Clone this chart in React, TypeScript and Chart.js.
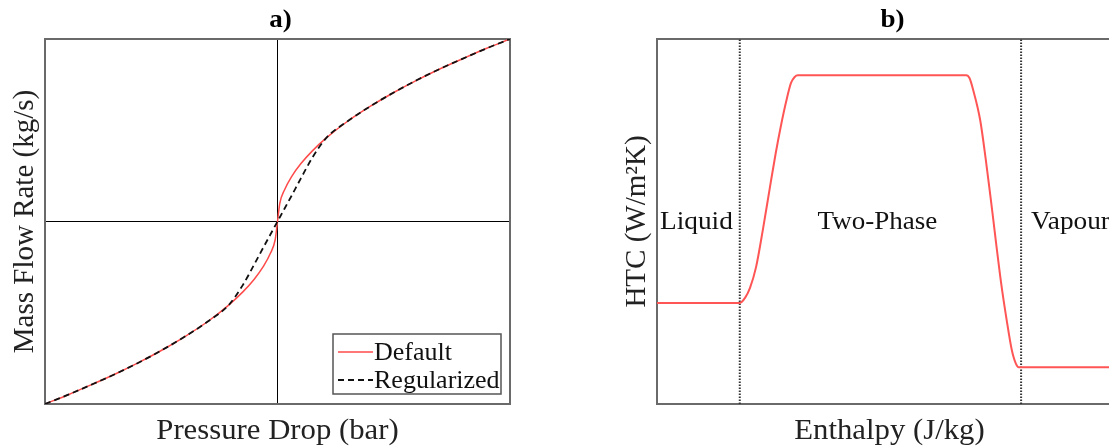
import React, { useEffect, useRef } from "react";
import { Chart, registerables } from "chart.js";
Chart.register(...registerables);

// ---------- Panel a) data ----------
const pressureDrop = [-1, -0.9, -0.8, -0.7, -0.6, -0.5, -0.4, -0.3, -0.21, -0.15, -0.1, -0.06, -0.03, -0.01, 0, 0.01, 0.03, 0.06, 0.1, 0.15, 0.21, 0.3, 0.4, 0.5, 0.6, 0.7, 0.8, 0.9, 1];
const flowDefault = [-1, -0.949, -0.894, -0.837, -0.775, -0.707, -0.632, -0.548, -0.458, -0.387, -0.316, -0.245, -0.173, -0.1, 0, 0.1, 0.173, 0.245, 0.316, 0.387, 0.458, 0.548, 0.632, 0.707, 0.775, 0.837, 0.894, 0.949, 1];
const flowRegularized = [-1, -0.949, -0.894, -0.837, -0.775, -0.707, -0.632, -0.548, -0.458, -0.35, -0.235, -0.14, -0.07, -0.023, 0, 0.023, 0.07, 0.14, 0.235, 0.35, 0.458, 0.548, 0.632, 0.707, 0.775, 0.837, 0.894, 0.949, 1];

// ---------- Panel b) data ----------
const enthalpy = [0, 0.178, 0.19, 0.2, 0.213, 0.228, 0.243, 0.255, 0.266, 0.278, 0.288, 0.296, 0.303, 0.665, 0.672, 0.68, 0.695, 0.707, 0.718, 0.74, 0.752, 0.763, 0.772, 0.778, 1];
const htc = [0.277, 0.277, 0.292, 0.318, 0.375, 0.48, 0.595, 0.685, 0.759, 0.83, 0.879, 0.896, 0.901, 0.901, 0.893, 0.86, 0.778, 0.67, 0.559, 0.332, 0.23, 0.148, 0.11, 0.101, 0.101];
const phaseBoundaries = [0.178, 0.783];
const phaseLabels = ["Liquid", "Two-Phase", "Vapour"];

// ---------- Text ----------
const titleA = "a)";
const titleB = "b)";
const xTitleA = "Pressure Drop (bar)";
const yTitleA = "Mass Flow Rate (kg/s)";
const xTitleB = "Enthalpy (J/kg)";
const yTitleB = "HTC (W/m\u00B2K)";
const legendLabels = ["Default", "Regularized"];

const SERIF = "'Liberation Serif', 'Times New Roman', serif";
const RED = "#ff4a4a";

// draw horizontally stretched text (the reference text is slightly wide)
function wideText(ctx: CanvasRenderingContext2D, text: string, x: number, y: number, align: CanvasTextAlign, sx: number) {
  ctx.save();
  ctx.translate(x, y);
  ctx.scale(sx, 1);
  ctx.textAlign = align;
  ctx.textBaseline = "alphabetic";
  ctx.fillText(text, 0, 0);
  ctx.restore();
}

function framePlugin(opts: any) {
  return {
    id: "frame",
    beforeDatasetsDraw(chart: any) {
      const { ctx, chartArea: a } = chart;
      ctx.save();
      ctx.strokeStyle = "#6a6a6a";
      ctx.lineWidth = 2;
      ctx.strokeRect(a.left, a.top, a.right - a.left, a.bottom - a.top);
      ctx.restore();
    },
    afterDraw(chart: any) {
      const { ctx, chartArea: a } = chart;
      const cx = (a.left + a.right) / 2;
      const cy = (a.top + a.bottom) / 2;
      ctx.save();
      ctx.fillStyle = "#000";
      ctx.font = `bold 26px ${SERIF}`;
      wideText(ctx, opts.title, cx + 3, 27, "center", 1.04);
      ctx.font = `29px ${SERIF}`;
      ctx.fillStyle = "#222";
      wideText(ctx, opts.xTitle, cx, a.bottom + 35, "center", 1.06);
      ctx.save();
      ctx.translate(a.left - opts.yTitleOffset, cy);
      ctx.rotate(-Math.PI / 2);
      ctx.textAlign = "center";
      ctx.textBaseline = "alphabetic";
      ctx.fillText(opts.yTitle, 0, 0);
      ctx.restore();
      if (opts.extra) opts.extra(chart, ctx);
      ctx.restore();
    },
  };
}

function drawLegendA(chart: any, ctx: CanvasRenderingContext2D) {
  const a = chart.chartArea;
  const right = a.right - 9;
  const bottom = a.bottom - 10;
  const w = 168;
  const h = 60;
  const left = right - w;
  const top = bottom - h;
  ctx.save();
  ctx.fillStyle = "#fff";
  ctx.fillRect(left, top, w, h);
  ctx.strokeStyle = "#555";
  ctx.lineWidth = 1.5;
  ctx.strokeRect(left, top, w, h);
  const ds = chart.data.datasets;
  const rows = [ds.find((d: any) => d.label === legendLabels[0]), ds.find((d: any) => d.label === legendLabels[1])];
  rows.forEach((d: any, i: number) => {
    const y = top + 18 + i * 28;
    ctx.beginPath();
    ctx.strokeStyle = d.borderColor;
    ctx.lineWidth = d.borderWidth;
    ctx.setLineDash(d.borderDash || []);
    ctx.moveTo(left + 5, y);
    ctx.lineTo(left + 40, y);
    ctx.stroke();
    ctx.setLineDash([]);
    ctx.fillStyle = "#111";
    ctx.font = `25px ${SERIF}`;
    wideText(ctx, d.label, left + 41, y + 8, "left", 1.04);
  });
  ctx.restore();
}

function drawPhaseLabels(chart: any, ctx: CanvasRenderingContext2D) {
  const xs = chart.scales.x;
  const a = chart.chartArea;
  const base = 229;
  ctx.save();
  ctx.fillStyle = "#111";
  ctx.font = `26px ${SERIF}`;
  const b0 = xs.getPixelForValue(phaseBoundaries[0]);
  const b1 = xs.getPixelForValue(phaseBoundaries[1]);
  wideText(ctx, phaseLabels[0], a.left + 3, base, "left", 1.05);
  wideText(ctx, phaseLabels[1], (b0 + b1) / 2 - 3, base, "center", 1.04);
  wideText(ctx, phaseLabels[2], b1 + 10, base, "left", 1.05);
  ctx.restore();
}

const hiddenAxis = (min: number, max: number, zeroLine: boolean) => ({
  type: "linear" as const,
  min,
  max,
  ticks: { display: false, stepSize: 1 },
  grid: zeroLine
    ? {
        color: (c: any) => (c.tick && c.tick.value === 0 ? "#000" : "rgba(0,0,0,0)"),
        lineWidth: 1,
        drawTicks: false,
      }
    : { display: false, drawTicks: false },
  border: { display: false },
});

export default function App() {
  const refA = useRef<HTMLCanvasElement>(null);
  const refB = useRef<HTMLCanvasElement>(null);

  useEffect(() => {
    const chartA = new Chart(refA.current!, {
      type: "line",
      data: {
        datasets: [
          {
            label: legendLabels[1],
            data: pressureDrop.map((x, i) => ({ x, y: flowRegularized[i] })),
            borderColor: "#111",
            borderWidth: 1.8,
            borderDash: [6, 4],
            pointRadius: 0,
            cubicInterpolationMode: "monotone",
          },
          {
            label: legendLabels[0],
            data: pressureDrop.map((x, i) => ({ x, y: flowDefault[i] })),
            borderColor: RED,
            borderWidth: 1.5,
            pointRadius: 0,
            cubicInterpolationMode: "monotone",
          },
        ],
      },
      options: {
        responsive: false,
        animation: false,
        layout: { padding: { left: 45, top: 39, right: 50, bottom: 44 } },
        scales: { x: hiddenAxis(-1, 1, true), y: hiddenAxis(-1, 1, true) },
        plugins: { legend: { display: false }, tooltip: { enabled: false } },
      },
      plugins: [
        framePlugin({ title: titleA, xTitle: xTitleA, yTitle: yTitleA, yTitleOffset: 12, extra: drawLegendA }),
      ],
    } as any);

    const chartB = new Chart(refB.current!, {
      type: "line",
      data: {
        datasets: [
          {
            label: "HTC",
            data: enthalpy.map((x, i) => ({ x, y: htc[i] })),
            borderColor: "#ff5555",
            borderWidth: 2,
            pointRadius: 0,
            cubicInterpolationMode: "monotone",
          },
          ...phaseBoundaries.map((b) => ({
            label: "boundary",
            data: [
              { x: b, y: 0 },
              { x: b, y: 1 },
            ],
            borderColor: "#333",
            borderWidth: 2,
            borderDash: [1.5, 1.5],
            pointRadius: 0,
          })),
        ],
      },
      options: {
        responsive: false,
        animation: false,
        layout: { padding: { left: 97, top: 39, right: 38, bottom: 44 } },
        scales: { x: hiddenAxis(0, 1, false), y: hiddenAxis(0, 1, false) },
        plugins: { legend: { display: false }, tooltip: { enabled: false } },
      },
      plugins: [
        framePlugin({ title: titleB, xTitle: xTitleB, yTitle: yTitleB, yTitleOffset: 12, extra: drawPhaseLabels }),
      ],
    } as any);

    return () => {
      chartA.destroy();
      chartB.destroy();
    };
  }, []);

  return (
    <div
      style={{
        position: "absolute",
        left: 0,
        top: 0,
        width: 1109,
        height: 448,
        overflow: "hidden",
        background: "#fff",
      }}
    >
      <canvas ref={refA} width={560} height={448} style={{ position: "absolute", left: 0, top: 0 }} />
      <canvas ref={refB} width={600} height={448} style={{ position: "absolute", left: 560, top: 0 }} />
    </div>
  );
}
